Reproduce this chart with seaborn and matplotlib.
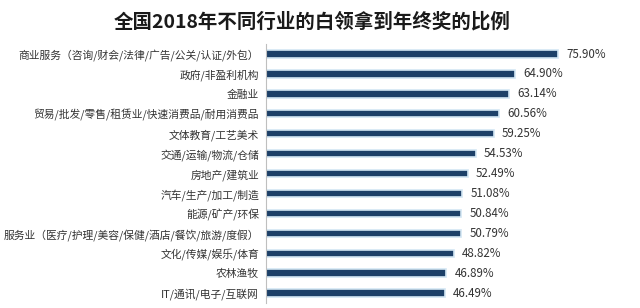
import matplotlib
matplotlib.use('Agg')
import matplotlib.pyplot as plt
import seaborn as sns
import pandas as pd

# Data
industries = [
    '商业服务（咨询/财会/法律/广告/公关/认证/外包）',
    '政府/非盈利机构',
    '金融业',
    '贸易/批发/零售/租赁业/快速消费品/耐用消费品',
    '文体教育/工艺美术',
    '交通/运输/物流/仓储',
    '房地产/建筑业',
    '汽车/生产/加工/制造',
    '能源/矿产/环保',
    '服务业（医疗/护理/美容/保健/酒店/餐饮/旅游/度假）',
    '文化/传媒/娱乐/体育',
    '农林渔牧',
    'IT/通讯/电子/互联网',
]
ratios = [75.90, 64.90, 63.14, 60.56, 59.25, 54.53, 52.49, 51.08, 50.84, 50.79, 48.82, 46.89, 46.49]
title = '全国2018年不同行业的白领拿到年终奖的比例'

df = pd.DataFrame({'industry': industries, 'ratio': ratios})

sns.set_style('white')
plt.rcParams['font.family'] = ['Noto Sans CJK SC', 'DejaVu Sans']

fig = plt.figure(figsize=(6.4, 3.08), dpi=100)
ax = fig.add_axes([266 / 640, 0.016, 365 / 640, 0.841])

sns.barplot(data=df, x='ratio', y='industry', orient='h', color='#1d4068',
            width=0.37, saturation=1, ax=ax, edgecolor='#d3e6f3', linewidth=1.2)

ax.set_xlim(0, 95)
ax.set_xlabel('')
ax.set_ylabel('')
ax.set_xticks([])

# value labels
for i, v in enumerate(ratios):
    ax.text(v + 2.2, i, f'{v:.2f}%', va='center', ha='left', fontsize=8.3, color='#333333')

# axis styling: only left spine, ticks between categories
for s in ['top', 'right', 'bottom']:
    ax.spines[s].set_visible(False)
ax.spines['left'].set_color('#bfbfbf')
ax.spines['left'].set_linewidth(0.8)
ax.set_yticks(range(len(industries)))
ax.set_yticklabels(industries, fontsize=7.75, color='#333333')
ax.tick_params(axis='y', length=0, pad=5)
ax.set_yticks([i - 0.5 for i in range(len(industries) + 1)], minor=True)
ax.tick_params(axis='y', which='minor', length=3, color='#bfbfbf', width=0.8)
ax.set_ylim(len(industries) - 0.5, -0.5)

fig.text(0.487, 0.929, title, ha='center', va='center', fontsize=14, fontweight='bold', color='#1a1a1a')

fig.savefig('out.png', dpi=100)
